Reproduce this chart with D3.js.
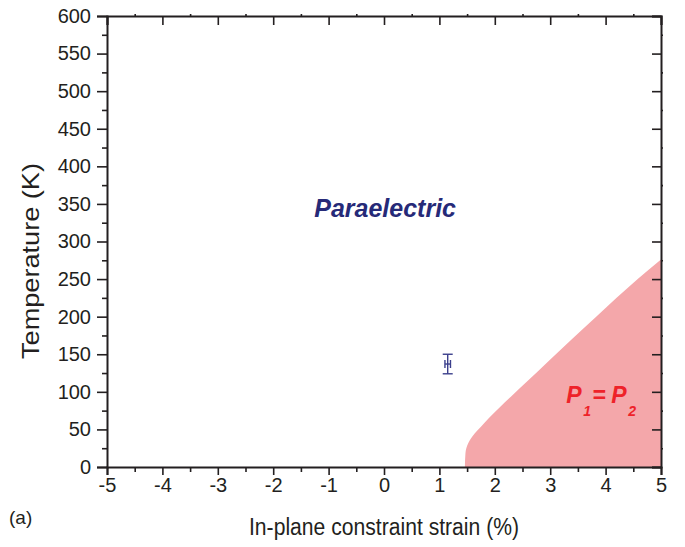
<!DOCTYPE html>
<html>
<head>
<meta charset="utf-8">
<script src="https://cdn.jsdelivr.net/npm/d3@7"></script>
<style>
  body { margin: 0; background: #fff; }
  svg text { font-family: "Liberation Sans", Arial, sans-serif; }
</style>
</head>
<body>
<svg id="chart"></svg>
<script>
// phase boundary of the P1 = P2 region (strain %, temperature K)
const boundaryStrain = [1.46, 1.47, 1.52, 1.64, 1.75, 1.89, 2.1, 2.29, 2.61, 2.93, 3.39, 3.83, 4.58, 5.0];
const boundaryTemp   = [0, 18, 31.5, 44.8, 53.7, 64.8, 80.2, 93.5, 115.7, 138, 170, 200, 250, 276];

// measured point with error bars
const pointStrain = [1.15];
const pointTemp = [137];
const pointErrX = [0.05];
const pointErrY = [13];

const xTicks = [-5, -4, -3, -2, -1, 0, 1, 2, 3, 4, 5];
const yTicks = [0, 50, 100, 150, 200, 250, 300, 350, 400, 450, 500, 550, 600];

const config = {
  width: 685, height: 547,
  margin: {top: 16, right: 24, bottom: 80, left: 107}
};

const svg = d3.select('#chart')
  .attr('width', config.width)
  .attr('height', config.height);

const w = config.width - config.margin.left - config.margin.right;
const h = config.height - config.margin.top - config.margin.bottom;

const x = d3.scaleLinear().domain([-5, 5]).range([0, w]);
const y = d3.scaleLinear().domain([0, 600]).range([h, 0]);

const chart = svg.append('g')
  .attr('transform', `translate(${config.margin.left},${config.margin.top})`);

// shaded region: between the boundary and the right edge
const region = boundaryStrain.map((s, i) => ({s: s, t: boundaryTemp[i]}));
chart.append('path')
  .datum(region)
  .attr('d', d3.area()
    .y(d => y(d.t))
    .x0(d => x(d.s))
    .x1(x(5))
    .curve(d3.curveMonotoneY))
  .attr('fill', '#f4a7aa')
  .attr('stroke', 'none');

// minor tick values
const xMinor = d3.range(-4.5, 5, 1);
const yMinor = d3.range(25, 600, 50);

const tickColor = '#231f20';

// bottom axis
chart.append('g').attr('transform', `translate(0,${h})`)
  .call(d3.axisBottom(x).tickValues(xTicks).tickSize(8).tickPadding(3).tickFormat(d => d));
chart.append('g').attr('transform', `translate(0,${h})`)
  .call(d3.axisBottom(x).tickValues(xMinor).tickSize(5).tickFormat(''))
  .call(g => g.select('.domain').remove());

// left axis
chart.append('g')
  .call(d3.axisLeft(y).tickValues(yTicks).tickSize(10).tickPadding(6).tickFormat(d => d));
chart.append('g')
  .call(d3.axisLeft(y).tickValues(yMinor).tickSize(5).tickFormat(''))
  .call(g => g.select('.domain').remove());

// top axis (inward major, small outward minor)
chart.append('g')
  .call(d3.axisTop(x).tickValues(xTicks).tickSize(-9).tickFormat(''));
chart.append('g')
  .call(d3.axisTop(x).tickValues(xMinor).tickSize(2).tickFormat(''))
  .call(g => g.select('.domain').remove());

// right axis
chart.append('g').attr('transform', `translate(${w},0)`)
  .call(d3.axisRight(y).tickValues(yTicks).tickSize(-9).tickFormat(''));
chart.append('g').attr('transform', `translate(${w},0)`)
  .call(d3.axisRight(y).tickValues(yMinor).tickSize(2).tickFormat(''))
  .call(g => g.select('.domain').remove());

chart.selectAll('.domain').attr('stroke', tickColor).attr('stroke-width', 2);
chart.selectAll('.tick line').attr('stroke', tickColor).attr('stroke-width', 1.6);
chart.selectAll('.tick text').attr('fill', tickColor).style('font-size', '20px');

// error bar point
const eb = chart.append('g').attr('stroke', '#3b3f8c').attr('stroke-width', 1.4);
pointStrain.forEach((s, i) => {
  const cx = x(s), cy = y(pointTemp[i]);
  const y0 = y(pointTemp[i] - pointErrY[i]), y1 = y(pointTemp[i] + pointErrY[i]);
  const x0 = x(s - pointErrX[i]), x1 = x(s + pointErrX[i]);
  eb.append('line').attr('x1', cx).attr('x2', cx).attr('y1', y0).attr('y2', y1);
  eb.append('line').attr('x1', cx - 5).attr('x2', cx + 5).attr('y1', y0).attr('y2', y0);
  eb.append('line').attr('x1', cx - 5).attr('x2', cx + 5).attr('y1', y1).attr('y2', y1);
  eb.append('line').attr('x1', x0).attr('x2', x1).attr('y1', cy).attr('y2', cy);
  eb.append('line').attr('x1', x0).attr('x2', x0).attr('y1', cy - 4).attr('y2', cy + 4);
  eb.append('line').attr('x1', x1).attr('x2', x1).attr('y1', cy - 4).attr('y2', cy + 4);
});

// region labels
chart.append('text')
  .attr('x', x(0.02)).attr('y', y(333))
  .attr('text-anchor', 'middle')
  .attr('fill', '#262a78')
  .style('font-size', '25px').style('font-weight', 'bold').style('font-style', 'italic')
  .text('Paraelectric');

const px = x(3.29), py = y(85);
const pl = chart.append('g')
  .attr('fill', '#ee2229')
  .style('font-weight', 'bold').style('font-style', 'italic');
pl.append('text').attr('x', px).attr('y', py).style('font-size', '23px').text('P');
pl.append('text').attr('x', px + 17).attr('y', py + 13).style('font-size', '14px').text('1');
pl.append('text').attr('x', px + 26).attr('y', py).style('font-size', '23px').text('=');
pl.append('text').attr('x', px + 45).attr('y', py).style('font-size', '23px').text('P');
pl.append('text').attr('x', px + 62).attr('y', py + 13).style('font-size', '14px').text('2');

// axis labels
svg.append('text')
  .attr('x', config.margin.left + w / 2).attr('y', 535)
  .attr('text-anchor', 'middle')
  .attr('fill', tickColor)
  .style('font-size', '23px')
  .attr('textLength', 270).attr('lengthAdjust', 'spacingAndGlyphs')
  .text('In-plane constraint strain (%)');

svg.append('text')
  .attr('transform', 'translate(39,261) rotate(-90)')
  .attr('text-anchor', 'middle')
  .attr('fill', tickColor)
  .style('font-size', '24px')
  .attr('textLength', 196).attr('lengthAdjust', 'spacingAndGlyphs')
  .text('Temperature (K)');

svg.append('text')
  .attr('x', 9).attr('y', 524)
  .attr('fill', tickColor)
  .style('font-size', '19px')
  .text('(a)');
</script>
</body>
</html>
